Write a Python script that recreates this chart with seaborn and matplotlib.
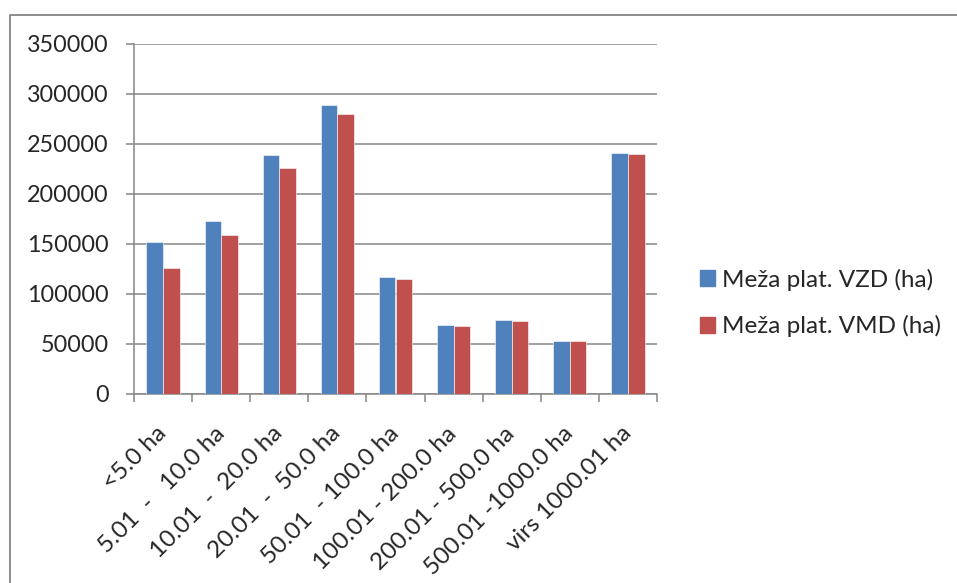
import pandas as pd
import matplotlib.pyplot as plt
import seaborn as sns
from matplotlib.lines import Line2D

# data
categories = ['<5.0 ha', '5.01  -   10.0 ha', '10.01  -  20.0 ha', '20.01  -  50.0 ha',
              '50.01  - 100.0 ha', '100.01 - 200.0 ha', '200.01 - 500.0 ha',
              '500.01 -1000.0 ha', 'virs 1000.01 ha']
vzd = [152300, 172800, 238400, 288300, 116800, 68900, 73900, 53000, 240600]
vmd = [126300, 158800, 226300, 279300, 114500, 68000, 72900, 52600, 239600]
series = ['Meža plat. VZD (ha)', 'Meža plat. VMD (ha)']
colors = ['#4F81BD', '#C0504D']
yticks = [0, 50000, 100000, 150000, 200000, 250000, 300000, 350000]

df = pd.DataFrame({
    'kat': categories * 2,
    'ha': vzd + vmd,
    'serija': [series[0]] * len(categories) + [series[1]] * len(categories),
})

sns.set_style('white')
plt.rcParams['font.family'] = ['Lato', 'DejaVu Sans']

W, H = 957, 583
fig = plt.figure(figsize=(W / 100, H / 100), dpi=100)
ax = fig.add_axes([134 / W, (H - 394) / H, 523 / W, (394 - 43.7) / H])

grey = '#868686'
sns.barplot(data=df, x='kat', y='ha', hue='serija', palette=colors, width=0.57,
            saturation=1, errorbar=None, edgecolor='white', linewidth=0.4, ax=ax, zorder=3)

ax.set_ylim(0, 350000)
ax.set_xlim(-0.5, len(categories) - 0.5)
ax.set_yticks(yticks)
ax.set_yticklabels([str(v) for v in yticks])
ax.yaxis.grid(True, color=grey, linewidth=1.1, zorder=0)
ax.set_axisbelow(True)
ax.set_xlabel('')
ax.set_ylabel('')

for s in ['top', 'right']:
    ax.spines[s].set_visible(False)
for s in ['left', 'bottom']:
    ax.spines[s].set_color(grey)
    ax.spines[s].set_linewidth(1.1)

ax.tick_params(axis='y', length=6, width=1.1, color=grey, pad=12, labelsize=16.8, direction='out', left=True)
ax.tick_params(axis='x', which='major', length=0, pad=26, labelsize=17.5)
ax.set_xticks([i - 0.5 for i in range(len(categories) + 1)], minor=True)
ax.tick_params(axis='x', which='minor', length=6, width=1.1, color=grey, direction='out', bottom=True)
for lab in ax.get_xticklabels():
    lab.set_rotation(45)
    lab.set_ha('right')
    lab.set_va('center')
    lab.set_rotation_mode('anchor')

ax.get_legend().remove()
handles = [plt.Rectangle((0, 0), 1, 1, color=c) for c in colors]
fig.legend(handles, series, loc='center left', bbox_to_anchor=(678 / W, 1 - 303 / H),
           frameon=False, fontsize=17.5, handlelength=0.62, handleheight=0.62,
           handletextpad=0.3, labelspacing=1.0)

# chart area border (top and left visible)
fig.add_artist(Line2D([10 / W, 10 / W, 1.0], [0.0, 1 - 14.5 / H, 1 - 14.5 / H],
                      transform=fig.transFigure, color='#8c8c8c', linewidth=1.4))

fig.savefig('out.png', dpi=100)
